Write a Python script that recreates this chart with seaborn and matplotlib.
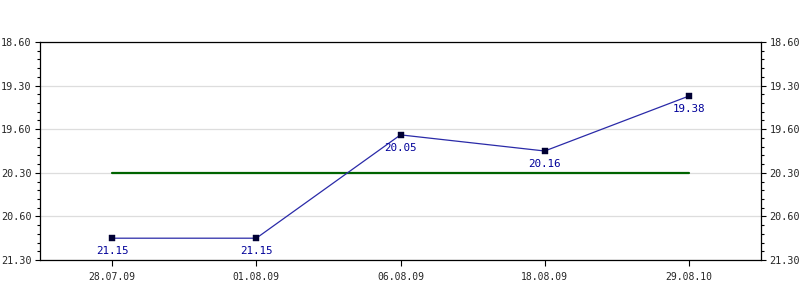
import matplotlib
matplotlib.use("Agg")
import matplotlib.pyplot as plt
import seaborn as sns
import pandas as pd
from matplotlib.ticker import MultipleLocator

dates = ["28.07.09", "01.08.09", "06.08.09", "18.08.09", "29.08.10"]
values = [21.15, 21.15, 20.05, 20.16, 19.38]
# vertical level of each point on the chart's (label-indexed) axis
levels = [4.50, 4.50, 2.13, 2.50, 1.24]
ref_level = 3.0  # green reference line (at 20.30 label)
ytick_labels = ["18.60", "19.30", "19.60", "20.30", "20.60", "21.30"]

df = pd.DataFrame({"date": dates, "value": values, "level": levels,
                   "pos": range(len(dates))})

sns.set_style("white")
plt.rcParams["font.family"] = ["DejaVu Sans Mono", "DejaVu Sans"]

fig = plt.figure(figsize=(8, 3), dpi=100)
ax = fig.add_axes([40/800, 1-260/300, 721/800, 218/300])

for lv in range(len(ytick_labels)):
    ax.axhline(lv, color="#dddddd", lw=0.9, zorder=0)

ax.plot([0, len(dates)-1], [ref_level, ref_level], color="#006400", lw=1.6, zorder=2)

sns.lineplot(data=df, x="pos", y="level", ax=ax, color="#2a2aa8", lw=0.9,
             zorder=3, legend=False)
sns.scatterplot(data=df, x="pos", y="level", ax=ax, marker="s", s=14,
                color="#000033", edgecolor="#000033", zorder=4, legend=False)

for _, r in df.iterrows():
    ax.annotate(f"{r['value']:.2f}", (r["pos"], r["level"]), xytext=(0, -9.5),
                textcoords="offset points", ha="center", va="center",
                color="#000099", fontsize=7.8)

ax.set_xlim(-0.5, len(dates)-0.5)
ax.set_ylim(len(ytick_labels)-1, 0)
ax.set_xticks(range(len(dates)))
ax.set_xticklabels(dates, fontsize=7)
ax.set_yticks(range(len(ytick_labels)))
ax.set_yticklabels(ytick_labels, fontsize=7.3)
ax.yaxis.set_minor_locator(MultipleLocator(0.2))
ax.tick_params(axis="y", which="both", left=True, right=True,
               labelleft=True, labelright=True, direction="out",
               color="black", width=0.8)
ax.tick_params(axis="y", which="major", length=3.5, pad=2.5)
ax.tick_params(axis="y", which="minor", length=2.5)
ax.tick_params(axis="x", which="major", bottom=True, direction="out",
               length=4, width=0.8, pad=5, color="black")
ax.set_xlabel("")
ax.set_ylabel("")
for s in ax.spines.values():
    s.set_visible(True)
    s.set_color("black")
    s.set_linewidth(0.9)

fig.savefig("out.png", dpi=100)
